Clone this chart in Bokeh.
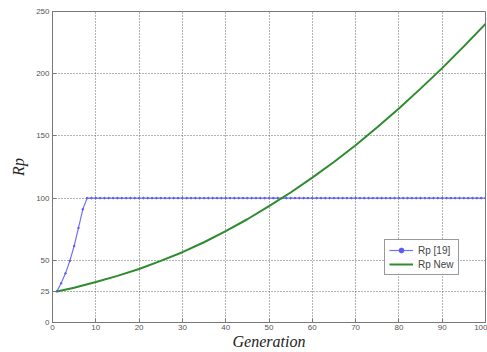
from bokeh.plotting import figure
from bokeh.models import FixedTicker, Legend, LegendItem, Range1d
from bokeh.embed import file_html
from bokeh.resources import INLINE

# Rp [19]: generation and value
gen_19 = list(range(1, 101))
rp_19 = [25, 31.5, 39.5, 49.5, 61.5, 76, 91, 100,
         100, 100, 100, 100, 100, 100, 100, 100, 100, 100, 100, 100,
         100, 100, 100, 100, 100, 100, 100, 100, 100, 100, 100, 100,
         100, 100, 100, 100, 100, 100, 100, 100, 100, 100, 100, 100,
         100, 100, 100, 100, 100, 100, 100, 100, 100, 100, 100, 100,
         100, 100, 100, 100, 100, 100, 100, 100, 100, 100, 100, 100,
         100, 100, 100, 100, 100, 100, 100, 100, 100, 100, 100, 100,
         100, 100, 100, 100, 100, 100, 100, 100, 100, 100, 100, 100,
         100, 100, 100, 100, 100, 100, 100, 100]

# Rp New
gen_new = [1, 5, 10, 15, 20, 25, 30, 35, 40, 45, 50, 55, 60, 65, 70, 75, 80, 85, 90, 95, 100]
rp_new = [25, 28, 32.5, 37.5, 43, 49.5, 56.5, 64.5, 73.5, 83, 93.5, 104.5, 116.5, 129,
          142.5, 157, 172, 188, 204.5, 222, 240]

x_ticks = [0, 10, 20, 30, 40, 50, 60, 70, 80, 90, 100]
y_ticks = [0, 25, 50, 100, 150, 200, 250]

p = figure(width=487, height=352, output_backend="svg", toolbar_location=None,
           x_range=Range1d(0, 100), y_range=Range1d(0, 250),
           min_border_left=52, min_border_right=2, min_border_top=11, min_border_bottom=27)
p.background_fill_color = "white"
p.border_fill_color = "white"
p.outline_line_color = "#777777"
p.outline_line_width = 1

l1 = p.line(gen_19, rp_19, line_color="#7070f8", line_width=1.2)
m1 = p.scatter(gen_19, rp_19, marker="circle", size=1.6, color="#5a5af0")
l2 = p.line(gen_new, rp_new, line_color="#2e8b2e", line_width=2)

for ax in (p.xaxis[0], p.yaxis[0]):
    ax.axis_line_color = "#777777"
    ax.major_tick_line_color = "#777777"
    ax.major_tick_in = 4
    ax.major_tick_out = 0
    ax.minor_tick_line_color = None
    ax.major_label_text_font = "Liberation Sans"
    ax.major_label_text_font_size = "8px"
    ax.major_label_text_color = "#555555"
    ax.major_label_standoff = 2
    ax.axis_label_text_font = "Liberation Serif"
    ax.axis_label_text_font_style = "italic"
    ax.axis_label_text_font_size = "16px"
    ax.axis_label_text_color = "#222222"
    ax.axis_label_standoff = 0

p.xaxis.ticker = FixedTicker(ticks=x_ticks)
p.yaxis.ticker = FixedTicker(ticks=y_ticks)
p.xaxis.axis_label = "Generation"
p.yaxis.axis_label = "Rp"
p.yaxis.major_label_standoff = 3
p.yaxis.axis_label_standoff = 6

p.xgrid.ticker = FixedTicker(ticks=x_ticks)
p.ygrid.ticker = FixedTicker(ticks=y_ticks)
for g in (p.xgrid[0], p.ygrid[0]):
    g.grid_line_color = "#666666"
    g.grid_line_dash = "1 2"
    g.grid_line_width = 1

legend = Legend(items=[LegendItem(label="Rp [19]", renderers=[l1, m1]),
                       LegendItem(label="Rp New", renderers=[l2])],
                location=(332, 47))
legend.label_text_font = "Liberation Sans"
legend.label_text_font_size = "10px"
legend.label_height = 12
legend.glyph_height = 12
legend.glyph_width = 24
legend.spacing = 2
legend.padding = 4
legend.margin = 0
legend.border_line_color = "#333333"
legend.border_line_width = 1
p.add_layout(legend, "center")

open("out.html", "w").write(file_html(p, INLINE))
